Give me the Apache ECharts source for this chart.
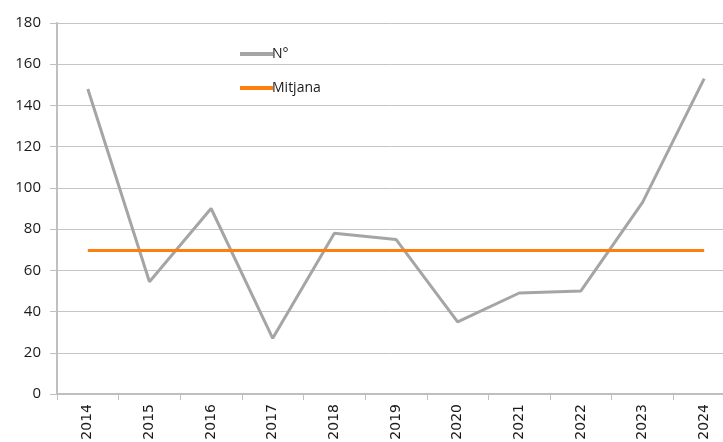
<!DOCTYPE html>
<html>
<head>
<meta charset="utf-8">
<script src="https://cdn.jsdelivr.net/npm/echarts@6/dist/echarts.min.js"></script>
<style>
html, body { margin: 0; padding: 0; background: #fff; }
#main { width: 723px; height: 442px; }
</style>
</head>
<body>
<div id="main"></div>
<script>
var myChart = echarts.init(document.getElementById('main'));

var years = ['2014', '2015', '2016', '2017', '2018', '2019', '2020', '2021', '2022', '2023', '2024'];
var numValues = [148, 54.5, 90, 27, 78, 75, 35, 49, 50, 93, 153];
var mitjanaValues = [69.6, 69.6, 69.6, 69.6, 69.6, 69.6, 69.6, 69.6, 69.6, 69.6, 69.6];

var option = {
    backgroundColor: '#fff',
    animation: false,
    textStyle: { fontFamily: 'Open Sans' },
    legend: {
        orient: 'vertical',
        left: 235,
        top: 42,
        itemWidth: 33,
        itemHeight: 4,
        itemGap: 20,
        icon: 'rect',
        textStyle: { fontSize: 14, color: '#1a1a1a', padding: [0, 0, 0, -6] },
        data: ['N°', 'Mitjana']
    },
    grid: {
        left: 57,
        top: 23,
        width: 678,
        bottom: 48,
        outerBoundsMode: 'none',
        containLabel: false
    },
    xAxis: {
        type: 'category',
        data: years,
        boundaryGap: true,
        axisLine: { lineStyle: { color: '#bfbfbf', width: 2 } },
        axisTick: { show: true, length: 6, lineStyle: { color: '#bfbfbf', width: 1 } },
        axisLabel: { rotate: 90, fontSize: 14, color: '#1a1a1a', margin: 10, fontFamily: 'DejaVu Sans' },
        splitLine: { show: false }
    },
    yAxis: {
        type: 'value',
        min: 0,
        max: 180,
        interval: 20,
        axisLine: { show: true, lineStyle: { color: '#bfbfbf', width: 2 } },
        axisTick: { show: true, length: 7, lineStyle: { color: '#bfbfbf' } },
        axisLabel: { fontSize: 15, color: '#1a1a1a', margin: 16 },
        splitLine: { lineStyle: { color: '#c4c4c4', width: 1 } }
    },
    series: [
        {
            name: 'N°',
            type: 'line',
            data: numValues,
            symbol: 'none',
            color: '#a5a5a5',
            lineStyle: { color: '#a5a5a5', width: 3 }
        },
        {
            name: 'Mitjana',
            type: 'line',
            data: mitjanaValues,
            symbol: 'none',
            color: '#ff7f0e',
            lineStyle: { color: '#ff7f0e', width: 3 }
        }
    ]
};

myChart.setOption(option);
</script>
</body>
</html>
